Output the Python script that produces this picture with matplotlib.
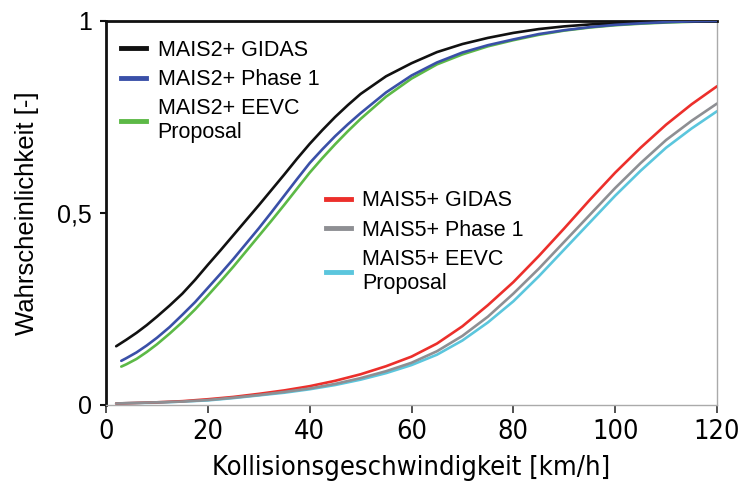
import matplotlib
matplotlib.use("Agg")
import matplotlib.pyplot as plt
from matplotlib.lines import Line2D

# Speed [km/h]
speed2 = [2, 4, 6, 8, 10, 12.5, 15, 17.5, 20, 22.5, 25, 27.5, 30, 32.5, 35, 37.5, 40,
          42.5, 45, 47.5, 50, 55, 60, 65, 70, 75, 80, 85, 90, 95, 100, 105, 110, 115, 120]
mais2_gidas = [0.153, 0.170, 0.188, 0.208, 0.230, 0.259, 0.290, 0.326, 0.365, 0.403, 0.442,
               0.481, 0.520, 0.560, 0.600, 0.641, 0.680, 0.716, 0.750, 0.781, 0.810, 0.856,
               0.890, 0.919, 0.940, 0.956, 0.969, 0.979, 0.986, 0.991, 0.994, 0.996, 0.998,
               0.999, 1.0]
speed2b = [3, 4, 6, 8, 10, 12.5, 15, 17.5, 20, 22.5, 25, 27.5, 30, 32.5, 35, 37.5, 40,
           42.5, 45, 47.5, 50, 55, 60, 65, 70, 75, 80, 85, 90, 95, 100, 105, 110, 115, 120]
mais2_phase1 = [0.115, 0.122, 0.137, 0.155, 0.175, 0.203, 0.235, 0.268, 0.305, 0.342,
                0.380, 0.420, 0.460, 0.502, 0.545, 0.588, 0.630, 0.666, 0.700, 0.731,
                0.760, 0.814, 0.858, 0.892, 0.918, 0.937, 0.952, 0.966, 0.976, 0.984,
                0.990, 0.994, 0.997, 0.999, 1.0]
mais2_eevc = [0.100, 0.106, 0.120, 0.138, 0.158, 0.186, 0.216, 0.249, 0.285, 0.322,
              0.360, 0.400, 0.440, 0.480, 0.521, 0.563, 0.605, 0.643, 0.679, 0.713,
              0.745, 0.803, 0.850, 0.887, 0.913, 0.934, 0.950, 0.964, 0.975, 0.983,
              0.989, 0.993, 0.996, 0.998, 1.0]

speed5 = [2, 5, 10, 15, 20, 25, 30, 35, 40, 45, 50, 55, 60, 65, 70, 75, 80,
          85, 90, 95, 100, 105, 110, 115, 120]
mais5_gidas = [0.004, 0.005, 0.007, 0.010, 0.015, 0.021, 0.029, 0.038, 0.049, 0.063,
               0.080, 0.101, 0.126, 0.160, 0.205, 0.260, 0.320, 0.388, 0.460, 0.534, 0.605,
               0.670, 0.730, 0.783, 0.830]
mais5_phase1 = [0.004, 0.005, 0.007, 0.009, 0.013, 0.019, 0.026, 0.034, 0.043, 0.055,
                0.070, 0.088, 0.110, 0.140, 0.180, 0.230, 0.290, 0.355, 0.425, 0.495, 0.565,
                0.630, 0.690, 0.740, 0.785]
mais5_eevc = [0.004, 0.005, 0.006, 0.009, 0.012, 0.018, 0.025, 0.032, 0.041, 0.052,
              0.066, 0.083, 0.104, 0.131, 0.168, 0.215, 0.270, 0.335, 0.405, 0.475, 0.545,
              0.610, 0.670, 0.720, 0.765]

labels2 = ["MAIS2+ GIDAS", "MAIS2+ Phase 1", "MAIS2+ EEVC\nProposal"]
labels5 = ["MAIS5+ GIDAS", "MAIS5+ Phase 1", "MAIS5+ EEVC\nProposal"]
colors2 = ["#111111", "#3a50a8", "#5cb946"]
colors5 = ["#ec2f2b", "#8e8f93", "#5bc6dd"]

xticks = [0, 20, 40, 60, 80, 100, 120]
yticks = [0, 0.5, 1]
yticklabels = ["0", "0,5", "1"]

normal = ["Liberation Sans", "DejaVu Sans"]

fig = plt.figure(figsize=(7.42, 4.87), dpi=100)
ax = fig.add_axes([106/742, 1-405/487, (717-106)/742, (405-21)/487])

lw = 1.9
kw = dict(lw=lw, solid_joinstyle="round", solid_capstyle="round")
ax.plot(speed2, mais2_gidas, color=colors2[0], zorder=3, **kw)
ax.plot(speed2b, mais2_phase1, color=colors2[1], zorder=3, **kw)
ax.plot(speed2b, mais2_eevc, color=colors2[2], zorder=2, **kw)
ax.plot(speed5, mais5_gidas, color=colors5[0], zorder=3, **kw)
ax.plot(speed5, mais5_phase1, color=colors5[1], zorder=3, **kw)
ax.plot(speed5, mais5_eevc, color=colors5[2], zorder=2, **kw)

ax.set_xlim(0, 120)
ax.set_ylim(0, 1)
ax.set_xticks(xticks)
ax.set_xticklabels([str(t) for t in xticks], fontfamily="DejaVu Sans",
                   fontstretch="condensed", fontsize=19.5)
ax.set_yticks(yticks)
ax.set_yticklabels(yticklabels, fontfamily=normal, fontsize=18)
ax.tick_params(axis="x", direction="out", length=6, width=1.2, color="#333333", pad=4)
ax.tick_params(axis="y", direction="out", length=4, width=1.5, color="#111111", pad=6)

for s in ["left", "top"]:
    ax.spines[s].set_color("#111111")
    ax.spines[s].set_linewidth(2.0)
for s in ["bottom", "right"]:
    ax.spines[s].set_color("#aaaaaa")
    ax.spines[s].set_linewidth(1.0)

ax.set_xlabel("Kollisionsgeschwindigkeit [km/h]", fontfamily="DejaVu Sans",
              fontstretch="condensed", fontsize=19.5, labelpad=7)
ax.set_ylabel("Wahrscheinlichkeit [-]", fontfamily=normal, fontsize=18.5, labelpad=13)

h2 = [Line2D([], [], color=c, lw=3.5) for c in colors2]
h5 = [Line2D([], [], color=c, lw=3.5) for c in colors5]
legkw = dict(loc="upper left", frameon=False, prop={"family": normal, "size": 15.5},
             handlelength=1.15, handletextpad=0.55, labelspacing=0.38, borderaxespad=0.3)
leg1 = ax.legend(h2, labels2, bbox_to_anchor=(0.0, 0.99), **legkw)
ax.add_artist(leg1)
ax.legend(h5, labels5, bbox_to_anchor=(0.335, 0.598), **legkw)

fig.savefig("out.png", dpi=100)
